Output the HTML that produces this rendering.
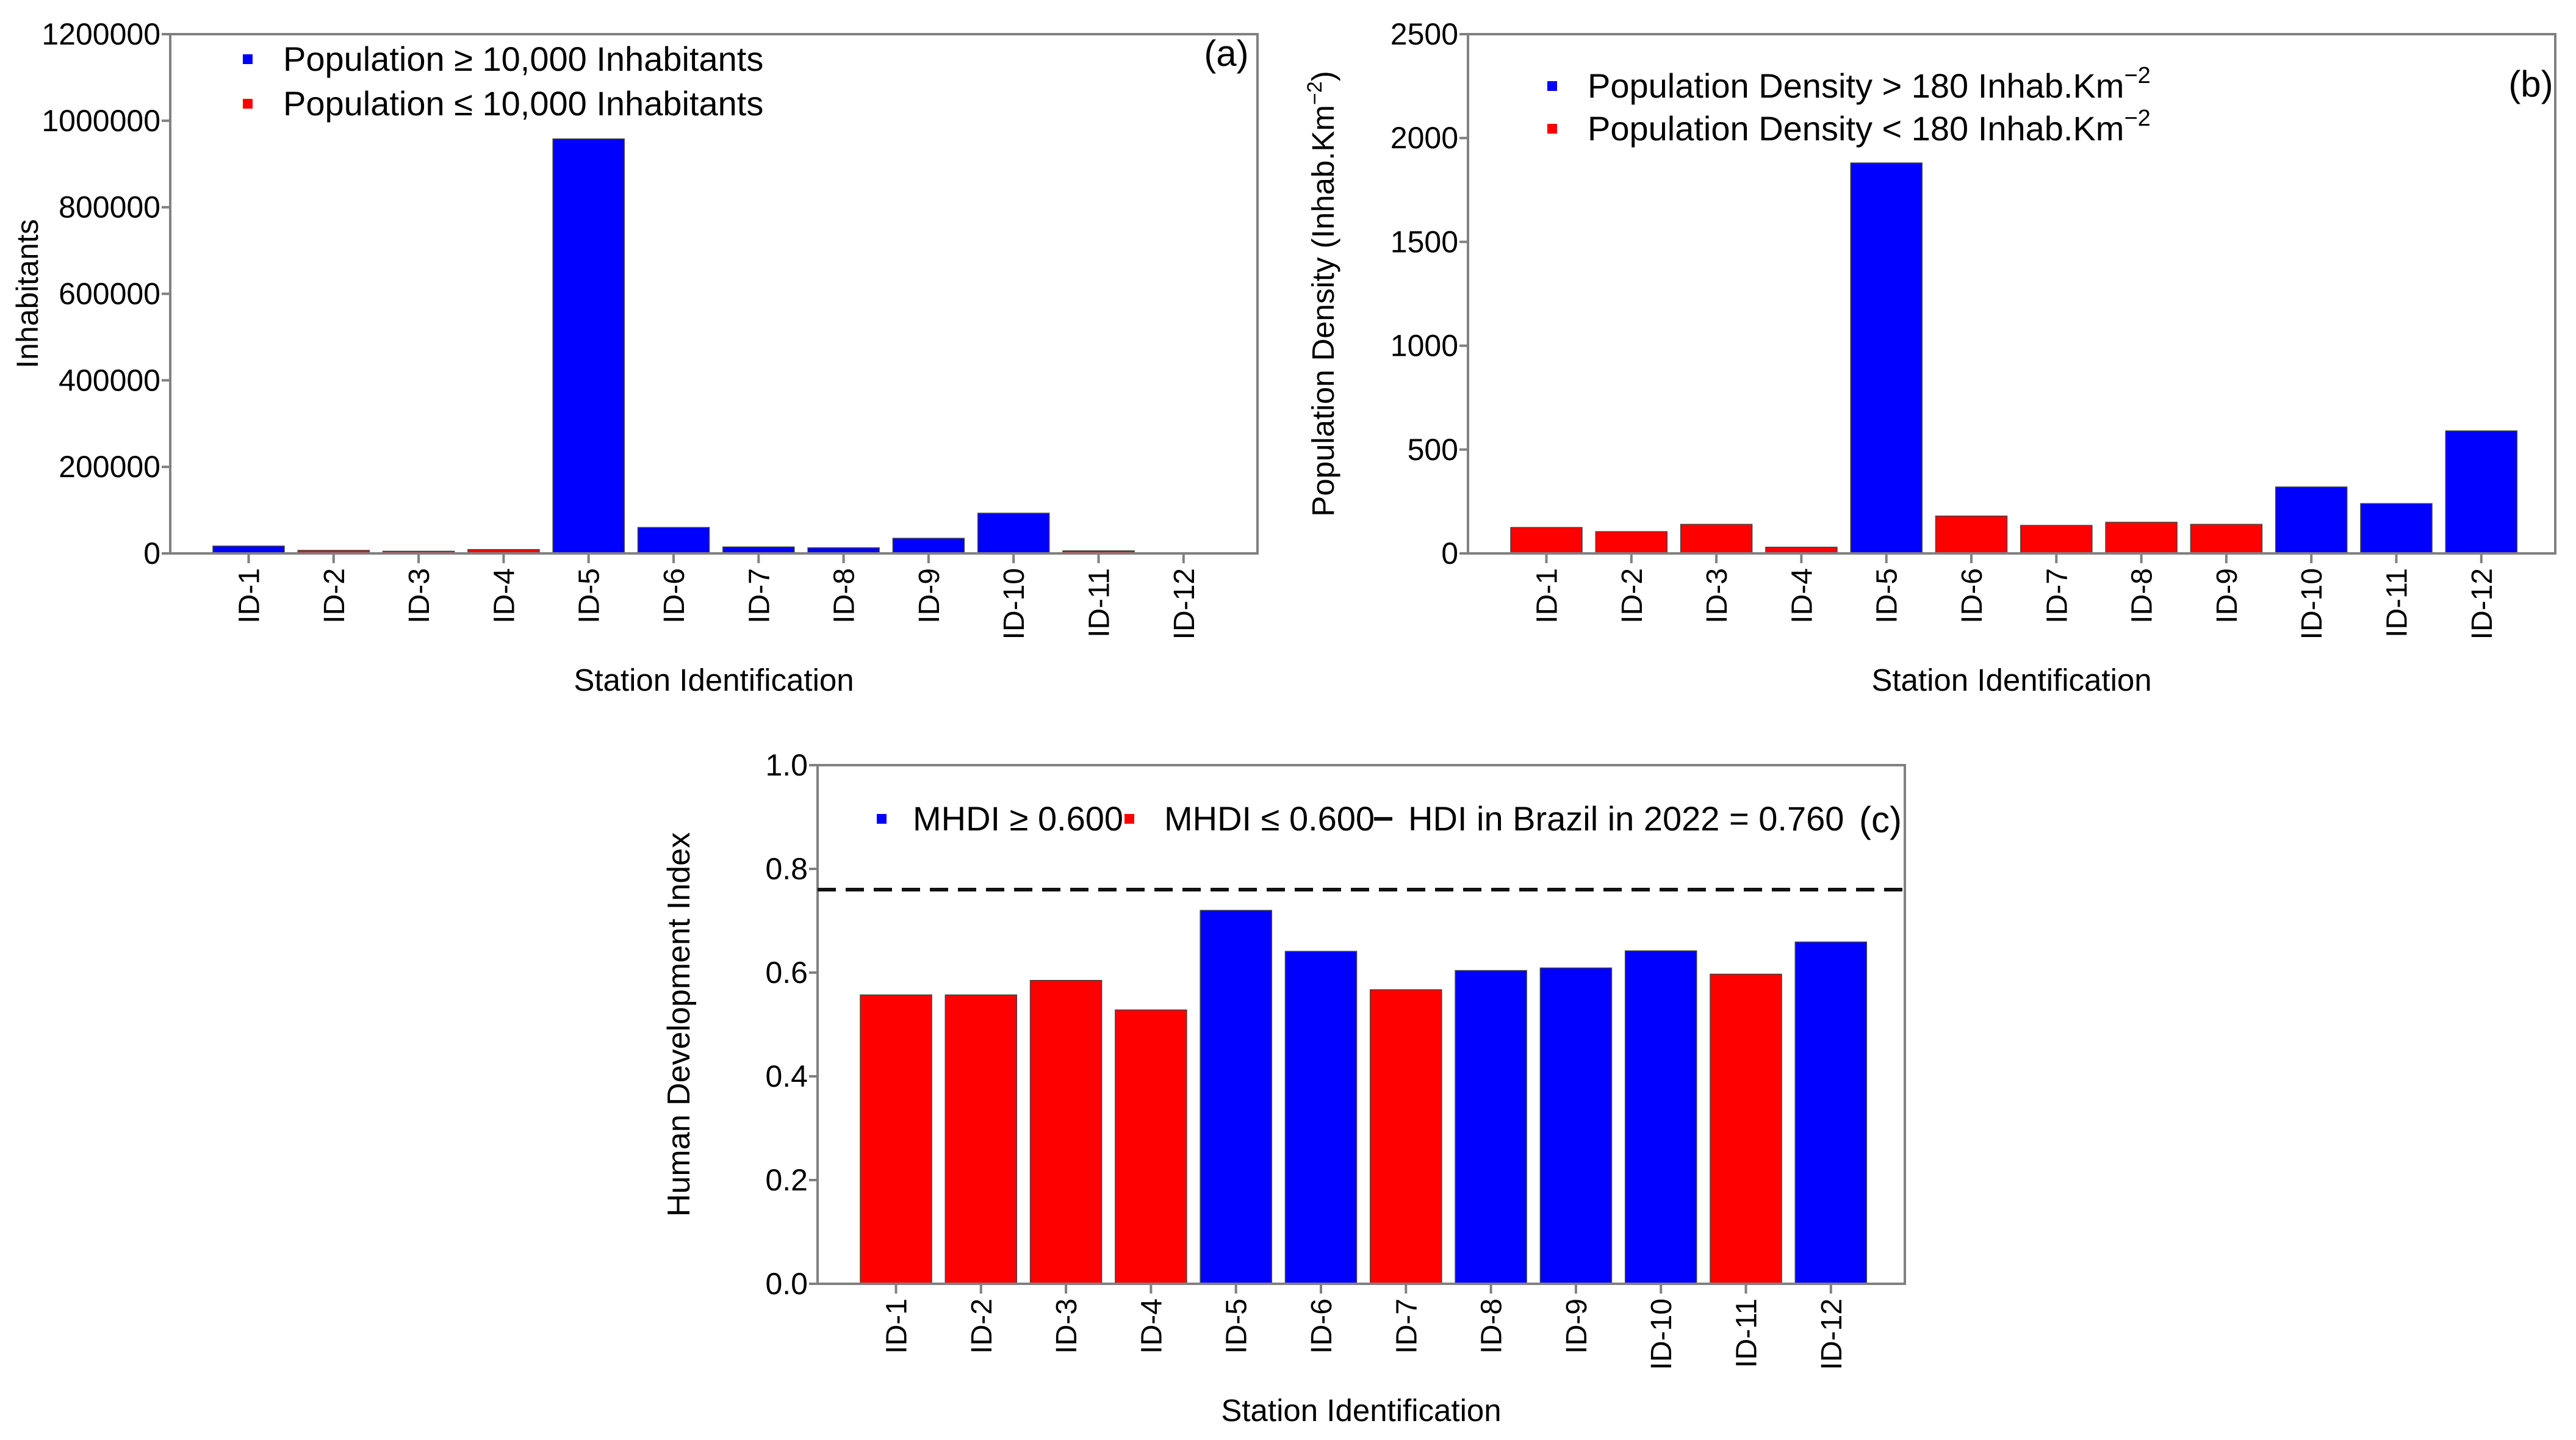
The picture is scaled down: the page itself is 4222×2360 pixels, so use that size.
<!DOCTYPE html>
<html><head><meta charset="utf-8"><style>
html,body{margin:0;padding:0;background:#fff;}
svg{display:block;font-family:"Liberation Sans",sans-serif;}
</style></head><body>
<svg id="fig" width="4222" height="2360" viewBox="0 0 4222 2360" xmlns="http://www.w3.org/2000/svg"></svg>
<script>
const categories = ["ID-1","ID-2","ID-3","ID-4","ID-5","ID-6","ID-7","ID-8","ID-9","ID-10","ID-11","ID-12"];
const popValues = [17000,7000,5000,9000,958000,60000,15000,13000,35000,93000,6000,0];
const popColors = ["b","r","r","r","b","b","b","b","b","b","r","b"];
const popTicks = [0,200000,400000,600000,800000,1000000,1200000];
const denValues = [125,105,140,30,1880,180,135,150,140,320,240,590];
const denColors = ["r","r","r","r","b","r","r","r","r","b","b","b"];
const denTicks = [0,500,1000,1500,2000,2500];
const hdiValues = [0.557,0.557,0.585,0.528,0.720,0.641,0.567,0.604,0.609,0.642,0.597,0.659];
const hdiColors = ["r","r","r","r","b","b","r","b","b","b","r","b"];
const hdiTicks = [0.0,0.2,0.4,0.6,0.8,1.0];
const hdiTickLabels = ["0.0","0.2","0.4","0.6","0.8","1.0"];
const brazilHDI = [0.760];

const NS="http://www.w3.org/2000/svg";
const svg=document.getElementById('fig');
const COL={b:"#0000ff",r:"#ff0000"};
function mk(tag,attrs,parent){const e=document.createElementNS(NS,tag);for(const k in attrs)e.setAttribute(k,attrs[k]);(parent||svg).appendChild(e);return e;}
function txt(parent,x,y,s,size,anchor,rot,sx){
  const t=mk('text',{x:0,y:0,'font-size':size,'text-anchor':anchor||'start',fill:'#000',
    transform:`translate(${x},${y}) rotate(${rot||0}) scale(${sx||1},1)`},parent);
  t.textContent=s;return t;
}
const PW=1782, SP=139.3, OFF=128.5, BW=117;

function panel(o){
  const g=mk('g',{});
  
  
  const L=o.left,T=o.top,W=PW,B=o.bottom,H=B-T;
  const xc=i=>L+OFF+i*SP;
  const y=v=>B-(v-o.min)/(o.max-o.min)*H;
  categories.forEach((c,i)=>{
    const v=o.values[i];
    const r=mk('rect',{x:xc(i)-BW/2,y:y(v),width:BW,height:Math.max(0,B-y(v)),fill:COL[o.colors[i]],stroke:'#444','stroke-width':1.5},g);
    
    
  });
  const f=mk('rect',{x:L,y:T,width:W,height:H,fill:'none',stroke:'#808080','stroke-width':4},g);
  
  
  o.ticks.forEach((t,i)=>{
    mk('line',{x1:L-14,x2:L,y1:y(t),y2:y(t),stroke:'#808080','stroke-width':4},g);
    const lab=txt(g,L-16,y(t)+17,o.tickLabels?o.tickLabels[i]:String(t),50,'end',0,1);
    
    
  });
  categories.forEach((c,i)=>{
    mk('line',{x1:xc(i),x2:xc(i),y1:B,y2:B+16,stroke:'#808080','stroke-width':4},g);
    const lab=txt(g,xc(i)+17,B+24,c,48,'end',-90);
    
    
  });
  const xt=txt(g,L+W/2,B+225,'Station Identification',51,'middle',0,1);
  
  
  const yt=txt(g,o.ytx,T+H/2,o.ytitle,o.ytsize||50,'middle',-90);
  
  
  return {g,L,T,B,W,y,xc};
}

const a=panel({name:'panel-a-population',left:279,top:56,bottom:907,min:0,max:1200000,values:popValues,colors:popColors,ticks:popTicks,ytx:62,ytitle:'Inhabitants'});
const b=panel({name:'panel-b-density',left:2406,top:56,bottom:907,min:0,max:2500,values:denValues,colors:denColors,ticks:denTicks,ytx:2184,ytitle:''});
{
  const t=mk('text',{x:0,y:0,'font-size':51,'text-anchor':'middle',transform:`translate(2186,${(56+907)/2}) rotate(-90)`},b.g);
  
  
  t.innerHTML='Population Density (Inhab.Km<tspan dy="-20" font-size="34">−2</tspan><tspan dy="20">)</tspan>';
}
const c=panel({name:'panel-c-hdi',left:1340,top:1254,bottom:2104,min:0,max:1,values:hdiValues,colors:hdiColors,ticks:hdiTicks,tickLabels:hdiTickLabels,ytx:1130,ytsize:52,ytitle:'Human Development Index'});
{
  const ln=mk('line',{x1:c.L,x2:c.L+c.W,y1:c.y(brazilHDI[0]),y2:c.y(brazilHDI[0]),stroke:'#111','stroke-width':6,'stroke-dasharray':'30 16'},c.g);
  
  
}

function legendEntry(g,sx,sy,color,text,name,sup){
  const e=mk('g',{},g);
  
  
  mk('rect',{x:sx-8,y:sy-8,width:16,height:16,fill:color},e);
  const t=mk('text',{x:0,y:0,'font-size':56,transform:`translate(${sx+58},${sy+19})`},e);
  t.innerHTML=text+(sup?'<tspan dy="-24" font-size="38">−2</tspan>':'');
  return e;
}
legendEntry(a.g,406,97,COL.b,'Population ≥ 10,000 Inhabitants','legend-entry-pop-high');
legendEntry(a.g,406,170,COL.r,'Population ≤ 10,000 Inhabitants','legend-entry-pop-low');
{const t=txt(a.g,2010,108,'(a)',60,'middle',0,1);}
legendEntry(b.g,2544,141,COL.b,'Population Density &gt; 180 Inhab.Km','legend-entry-density-high',true);
legendEntry(b.g,2544,211,COL.r,'Population Density &lt; 180 Inhab.Km','legend-entry-density-low',true);
{const t=txt(b.g,4148,158,'(b)',60,'middle',0,1);}
{
  const g=c.g;
  const e1=mk('g',{},g);
  
  
  mk('rect',{x:1437,y:1334,width:16,height:16,fill:COL.b},e1);
  txt(e1,1496,1361,'MHDI ≥ 0.600',56,'start',0,1);
  const e2=mk('g',{},g);
  
  
  mk('rect',{x:1843,y:1334,width:16,height:16,fill:COL.r},e2);
  txt(e2,1908,1361,'MHDI ≤ 0.600',56,'start',0,1);
  const e3=mk('g',{},g);
  
  
  mk('line',{x1:2252,x2:2282,y1:1342,y2:1342,stroke:'#111','stroke-width':6},e3);
  txt(e3,2308,1361,'HDI in Brazil in 2022 = 0.760',56,'start',0,1);
  const t=txt(g,3082,1364,'(c)',60,'middle',0,1);
  
  
}
</script>
</body></html>
